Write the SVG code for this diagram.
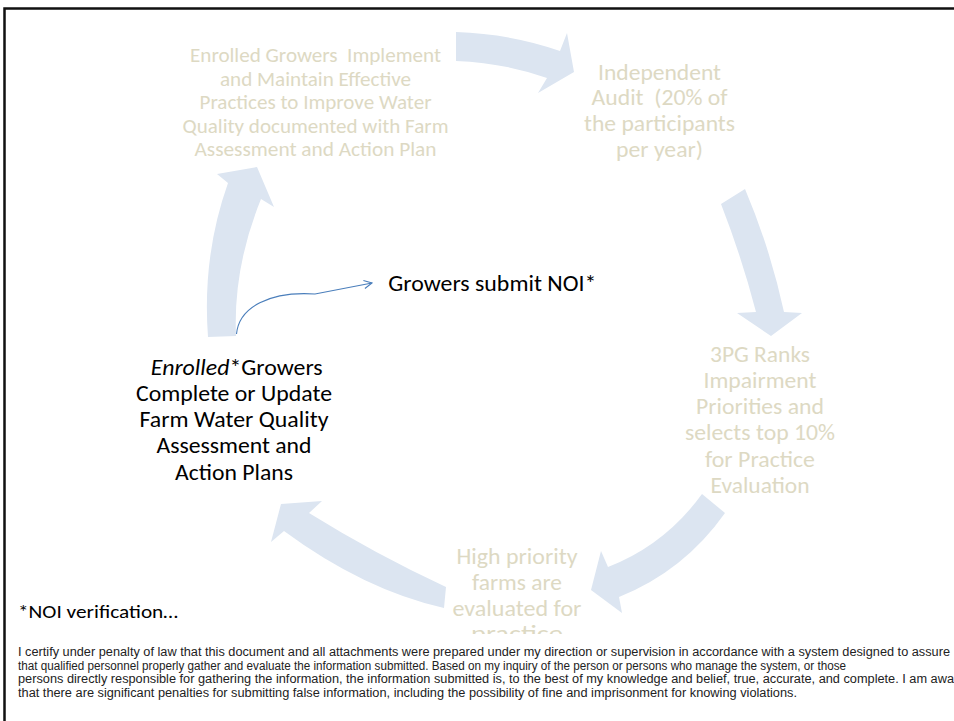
<svg xmlns="http://www.w3.org/2000/svg" width="954" height="721" viewBox="0 0 954 721">
<defs>
<style>
.arr{fill:#DCE5F1;stroke:none}
.beige{fill:#DDD9C3;font-family:Carlito,Lato,"Open Sans",sans-serif;text-anchor:middle}
.blk{fill:#000;font-family:Carlito,Lato,"Open Sans",sans-serif}
.cert{fill:#222;font-family:"Liberation Sans Narrow","Liberation Sans",Arial,sans-serif;font-size:12px}
.conn{fill:none;stroke:#4A7EBB;stroke-width:1.1}
</style>
<marker id="open" viewBox="0 0 10 10" refX="9" refY="5" markerWidth="10" markerHeight="10" markerUnits="userSpaceOnUse" orient="auto">
<path d="M1,1 L9,5 L1,9" fill="none" stroke="#4A7EBB" stroke-width="1.1"/>
</marker>
<clipPath id="cut"><rect x="0" y="0" width="954" height="634"/></clipPath>
</defs>
<rect width="954" height="721" fill="#fff"/>
<path d="M4.5,721 V8.5 H954" fill="none" stroke="#111" stroke-width="2.5"/>

<g id="cycle-arrows">
<path class="arr" d="M456,32 Q512,34 560,51 L567,33 L574,72 L538,93 L547,78 Q505,63 456,61 Z"/>
<path class="arr" d="M721,204 L745,189 Q770,248 784,312 L802,313 L771,336 L737,313 L756,312 Q742,258 721,204 Z"/>
<path class="arr" d="M702,494 L725,513 Q684,571 619,597 L622,613 L591,590 L601,551 L608,567 Q665,545 702,494 Z"/>
<path class="arr" d="M446,587 L444,608 Q364,590 284,531 L271,542 L281,504 L322,501 L309,513 Q375,554 446,587 Z"/>
<path class="arr" d="M208,337 Q202,256 228,183 L217,174 L257,167 L274,207 L261,199 Q233,268 236,336 Z"/>
</g>

<g id="node-implement" class="beige" font-size="19.5">
<text x="315.5" y="62" textLength="251" lengthAdjust="spacingAndGlyphs" xml:space="preserve">Enrolled Growers  Implement</text>
<text x="315.5" y="85.5" textLength="191" lengthAdjust="spacingAndGlyphs">and Maintain Effective</text>
<text x="315.5" y="109" textLength="232" lengthAdjust="spacingAndGlyphs">Practices to Improve Water</text>
<text x="315.5" y="132.5" textLength="266" lengthAdjust="spacingAndGlyphs">Quality documented with Farm</text>
<text x="315.5" y="156" textLength="242" lengthAdjust="spacingAndGlyphs">Assessment and Action Plan</text>
</g>

<g id="node-audit" class="beige" font-size="22">
<text x="659.5" y="79.5" textLength="123" lengthAdjust="spacingAndGlyphs">Independent</text>
<text x="659.5" y="104.5" textLength="136" lengthAdjust="spacingAndGlyphs" xml:space="preserve">Audit  (20% of</text>
<text x="659.5" y="130.5" textLength="151" lengthAdjust="spacingAndGlyphs">the participants</text>
<text x="659.5" y="156.5" textLength="87" lengthAdjust="spacingAndGlyphs">per year)</text>
</g>

<g id="node-ranks" class="beige" font-size="22">
<text x="760" y="361.5" textLength="100" lengthAdjust="spacingAndGlyphs">3PG Ranks</text>
<text x="760" y="387.5" textLength="113" lengthAdjust="spacingAndGlyphs">Impairment</text>
<text x="760" y="413.5" textLength="128" lengthAdjust="spacingAndGlyphs">Priorities and</text>
<text x="760" y="440" textLength="150" lengthAdjust="spacingAndGlyphs">selects top 10%</text>
<text x="760" y="466.5" textLength="110" lengthAdjust="spacingAndGlyphs">for Practice</text>
<text x="760" y="493" textLength="99" lengthAdjust="spacingAndGlyphs">Evaluation</text>
</g>

<g id="node-evaluated" class="beige" font-size="22">
<text x="517" y="563.5" textLength="121" lengthAdjust="spacingAndGlyphs">High priority</text>
<text x="517" y="589.5" textLength="90" lengthAdjust="spacingAndGlyphs">farms are</text>
<text x="517" y="615.5" textLength="129" lengthAdjust="spacingAndGlyphs">evaluated for</text>
<text x="517" y="641" textLength="92" lengthAdjust="spacingAndGlyphs" clip-path="url(#cut)">practice</text>
</g>

<g id="node-enrolled" class="blk" font-size="22" text-anchor="middle">
<text x="236.7" y="375" textLength="172" lengthAdjust="spacingAndGlyphs"><tspan font-style="italic">Enrolled</tspan>*Growers</text>
<text x="234" y="401" textLength="196" lengthAdjust="spacingAndGlyphs">Complete or Update</text>
<text x="234" y="427" textLength="189" lengthAdjust="spacingAndGlyphs">Farm Water Quality</text>
<text x="234" y="453" textLength="155" lengthAdjust="spacingAndGlyphs">Assessment and</text>
<text x="234" y="479.5" textLength="118" lengthAdjust="spacingAndGlyphs">Action Plans</text>
</g>

<g id="node-noi" class="blk" font-size="22">
<text x="388.3" y="291" textLength="208" lengthAdjust="spacingAndGlyphs">Growers submit NOI*</text>
</g>

<g id="connectors">
<path class="conn" d="M236.5,334 C239,307 270,291 315,294 L372,283" marker-end="url(#open)"/>
</g>

<rect x="6" y="634" width="948" height="87" fill="#fff"/>

<g id="note">
<text class="blk" x="18" y="618" font-size="18" textLength="160" lengthAdjust="spacingAndGlyphs">*NOI verification…</text>
<text class="cert" x="18" y="656" textLength="932" lengthAdjust="spacingAndGlyphs">I certify under penalty of law that this document and all attachments were prepared under my direction or supervision in accordance with a system designed to assure</text>
<text class="cert" x="18" y="669.5" textLength="828" lengthAdjust="spacingAndGlyphs">that qualified personnel properly gather and evaluate the information submitted. Based on my inquiry of the person or persons who manage the system, or those</text>
<text class="cert" x="18" y="683" textLength="936" lengthAdjust="spacingAndGlyphs">persons directly responsible for gathering the information, the information submitted is, to the best of my knowledge and belief, true, accurate, and complete. I am awa</text>
<text class="cert" x="18" y="696.5" textLength="779" lengthAdjust="spacingAndGlyphs">that there are significant penalties for submitting false information, including the possibility of fine and imprisonment for knowing violations.</text>
</g>
</svg>
